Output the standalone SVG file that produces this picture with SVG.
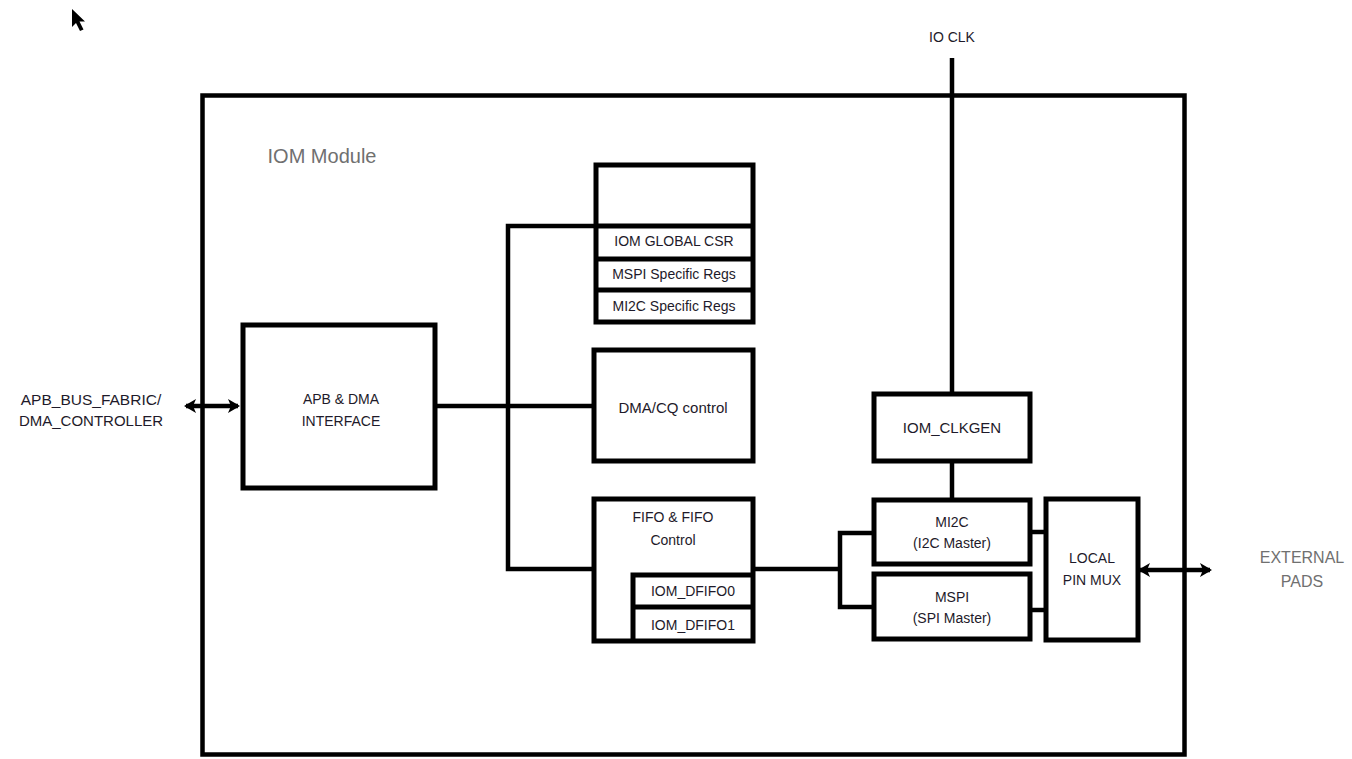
<svg xmlns="http://www.w3.org/2000/svg" width="1352" height="759" viewBox="0 0 1352 759">
<style>
.box{fill:#fff;stroke:#000;stroke-width:5}
.ln{fill:none;stroke:#000;stroke-width:4.5}
.t{font-family:"Liberation Sans",Arial,sans-serif;font-size:14px;fill:#1e1a2a;text-anchor:middle;dominant-baseline:central}
.g{font-family:"Liberation Sans",Arial,sans-serif;fill:#707070;text-anchor:middle;dominant-baseline:central}
</style>
<defs>
<marker id="ah" viewBox="0 0 12 14" refX="10" refY="7" markerWidth="12" markerHeight="14" markerUnits="userSpaceOnUse" orient="auto-start-reverse">
<path d="M0,0 L12,7 L0,14 L3,7 Z" fill="#000"/>
</marker>
</defs>
<rect width="1352" height="759" fill="#fff"/>
<path d="M72,9 L72,27 L76,23 L80,31 L83.5,29.5 L79.5,21.5 L85,21.5 Z" fill="#000"/>
<g id="iom-module">
<rect x="202.5" y="95.5" width="982" height="659" fill="none" stroke="#000" stroke-width="4.5"/>
<text class="g" x="322" y="156" style="font-size:20px">IOM Module</text>
</g>
<g id="connectors">
<line class="ln" x1="186" y1="406" x2="238" y2="406" marker-start="url(#ah)" marker-end="url(#ah)"/>
<line class="ln" x1="435" y1="406" x2="594" y2="406"/>
<polyline class="ln" points="596,226 508,226 508,569 594,569"/>
<line class="ln" x1="753" y1="569" x2="840" y2="569"/>
<polyline class="ln" points="874,533 840,533 840,607 874,607"/>
<line class="ln" x1="952" y1="58" x2="952" y2="394"/>
<line class="ln" x1="952" y1="461" x2="952" y2="500"/>
<line class="ln" x1="1030" y1="532" x2="1046" y2="532"/>
<line class="ln" x1="1030" y1="610" x2="1046" y2="610"/>
<line class="ln" x1="1140" y1="570" x2="1210" y2="570" marker-start="url(#ah)" marker-end="url(#ah)"/>
</g>
<g id="label-apb-bus">
<text class="t" x="91" y="399" style="font-size:15.5px">APB_BUS_FABRIC/</text>
<text class="t" x="91" y="420" style="font-size:15px">DMA_CONTROLLER</text>
</g>
<g id="label-io-clk">
<text class="t" x="952" y="37">IO CLK</text>
</g>
<g id="label-external-pads">
<text class="g" x="1302" y="557" style="font-size:16px">EXTERNAL</text>
<text class="g" x="1302" y="581" style="font-size:16px">PADS</text>
</g>
<g id="apb-dma-interface">
<rect class="box" x="243" y="325" width="192" height="163"/>
<text class="t" x="341" y="399">APB &amp; DMA</text>
<text class="t" x="341" y="421">INTERFACE</text>
</g>
<g id="register-stack">
<rect class="box" x="596" y="165" width="157" height="157"/>
<line class="ln" x1="596" y1="226" x2="753" y2="226" style="stroke-width:5"/>
<line class="ln" x1="596" y1="259" x2="753" y2="259" style="stroke-width:5"/>
<line class="ln" x1="596" y1="290" x2="753" y2="290" style="stroke-width:5"/>
<text class="t" x="674" y="241">IOM GLOBAL CSR</text>
<text class="t" x="674" y="274">MSPI Specific Regs</text>
<text class="t" x="674" y="306">MI2C Specific Regs</text>
</g>
<g id="dma-cq-control">
<rect class="box" x="594" y="350" width="159" height="111"/>
<text class="t" x="673" y="407" style="font-size:15px">DMA/CQ control</text>
</g>
<g id="fifo-control">
<rect class="box" x="594" y="499" width="159" height="142"/>
<polyline class="ln" points="633,641 633,575 753,575" style="stroke-width:5"/>
<line class="ln" x1="633" y1="607" x2="753" y2="607" style="stroke-width:5"/>
<text class="t" x="673" y="517">FIFO &amp; FIFO</text>
<text class="t" x="673" y="540">Control</text>
<text class="t" x="693" y="591">IOM_DFIFO0</text>
<text class="t" x="693" y="625">IOM_DFIFO1</text>
</g>
<g id="iom-clkgen">
<rect class="box" x="874" y="394" width="156" height="67"/>
<text class="t" x="952" y="427" style="font-size:15px">IOM_CLKGEN</text>
</g>
<g id="mi2c">
<rect class="box" x="874" y="500" width="156" height="64"/>
<text class="t" x="952" y="522">MI2C</text>
<text class="t" x="952" y="543">(I2C Master)</text>
</g>
<g id="mspi">
<rect class="box" x="874" y="574" width="156" height="65"/>
<text class="t" x="952" y="597">MSPI</text>
<text class="t" x="952" y="618">(SPI Master)</text>
</g>
<g id="local-pin-mux">
<rect class="box" x="1046" y="499" width="92" height="141"/>
<text class="t" x="1092" y="558">LOCAL</text>
<text class="t" x="1092" y="580">PIN MUX</text>
</g>
</svg>
